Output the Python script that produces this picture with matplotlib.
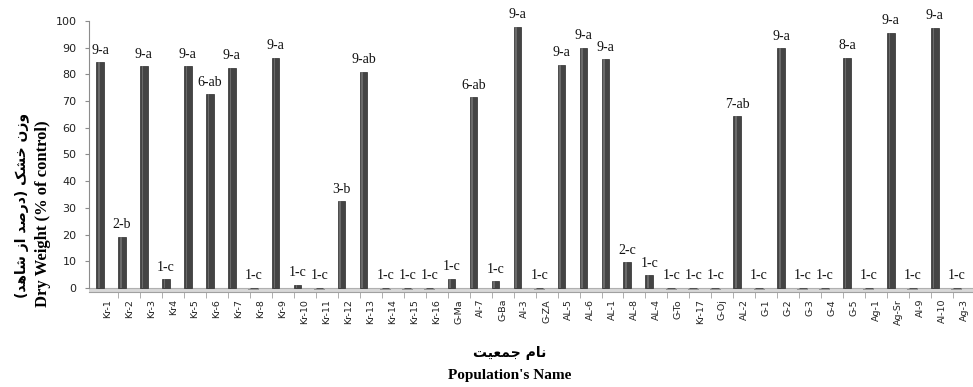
import matplotlib
matplotlib.use("Agg")
import matplotlib.pyplot as plt
import numpy as np

categories = ["Kr-1", "Kr-2", "Kr-3", "Kr4", "Kr-5", "Kr-6", "Kr-7", "Kr-8", "Kr-9", "Kr-10",
              "Kr-11", "Kr-12", "Kr-13", "Kr-14", "Kr-15", "Kr-16", "G-Ma", "Al-7", "G-Ba", "Al-3",
              "G-ZA", "AL-5", "AL-6", "AL-1", "AL-8", "AL-4", "G-To", "Kr-17", "G-Oj", "AL-2",
              "G-1", "G-2", "G-3", "G-4", "G-5", "Ag-1", "Ag-Sr", "Al-9", "Al-10", "Ag-3"]
values = [84.5, 19.2, 83.0, 3.2, 83.0, 72.5, 82.5, 0.0, 86.2, 1.2,
          0.0, 32.5, 81.0, 0.0, 0.0, 0.0, 3.5, 71.5, 2.5, 97.8,
          0.0, 83.5, 90.0, 85.7, 9.7, 4.8, 0.0, 0.0, 0.0, 64.3,
          0.0, 89.8, 0.0, 0.0, 86.2, 0.0, 95.5, 0.0, 97.5, 0.0]
bar_labels = ["9-a", "2-b", "9-a", "1-c", "9-a", "6-ab", "9-a", "1-c", "9-a", "1-c",
              "1-c", "3-b", "9-ab", "1-c", "1-c", "1-c", "1-c", "6-ab", "1-c", "9-a",
              "1-c", "9-a", "9-a", "9-a", "2-c", "1-c", "1-c", "1-c", "1-c", "7-ab",
              "1-c", "9-a", "1-c", "1-c", "8-a", "1-c", "9-a", "1-c", "9-a", "1-c"]
yticks = [0, 10, 20, 30, 40, 50, 60, 70, 80, 90, 100]

# Persian texts in pre-shaped visual (LTR) order
fa_ylabel = ("(" + "\uFEAA\uFEEB\uFE8E\uFEB7" + " " + "\uFEAF\uFE8D" + " " +
             "\uFEAA\uFEBB\uFEAD\uFEA9" + ")" + " " + "\uFB8F\uFEB8\uFEA7" + " " +
             "\uFEE5\uFEAF\uFEED")
fa_xlabel = "\uFE96\uFEF4\uFECC\uFEE4\uFE9F" + " " + "\uFEE1\uFE8E\uFEE7"
en_ylabel = "Dry Weight (% of control)"
en_xlabel = "Population's Name"

W, H = 973, 387
fig = plt.figure(figsize=(W / 100, H / 100), dpi=100)
ax = fig.add_axes([89 / W, (H - 292) / H, 886 / W, (292 - 21) / H])

x = np.arange(len(categories))
ax.set_xlim(-0.5, len(categories) - 0.5)
ax.set_ylim(-1.5, 100)

# floor
ax.axhspan(-1.5, 0, color="#d8d8d8", zorder=0.5, lw=0)
ax.axhline(0, color="#b0b0b0", lw=0.8, zorder=0.6)

ax.bar(x, values, width=0.34, color="#444444", edgecolor="#2a2a2a", linewidth=0.5, zorder=3)
ax.bar(x - 0.06, values, width=0.08, color="#6a6a6a", linewidth=0, zorder=3.5)
# flat marks of the zero bars on the floor
ax.bar(x, [0.6 if v == 0 else 0 for v in values], width=0.5, bottom=-0.9,
       color="#9a9a9a", linewidth=0, zorder=2)

for xi, v, lab in zip(x, values, bar_labels):
    ax.annotate(lab, (xi, v), xytext=(0, 4), textcoords="offset points",
                ha="center", va="bottom", fontsize=10, family="Liberation Serif",
                color="#111111")

for s in ["top", "right"]:
    ax.spines[s].set_visible(False)
ax.spines["left"].set_bounds(0, 100)
ax.spines["left"].set_color("#8c8c8c")
ax.spines["bottom"].set_color("#a0a0a0")

ax.set_yticks(yticks)
ax.set_yticklabels([str(t) for t in yticks], fontsize=8, color="#222222")
ax.tick_params(axis="y", length=3, color="#8c8c8c", pad=6)

ax.set_xticks(x + 0.33)
ax.set_xticklabels(categories, rotation=90, fontsize=6.8, color="#222222")
ax.set_xticks(x + 0.83, minor=True)
ax.tick_params(axis="x", which="major", length=0, pad=5)
ax.tick_params(axis="x", which="minor", length=4, color="#a0a0a0")

fig.text(22 / W, 1 - 205 / H, fa_ylabel, rotation=90, ha="center", va="center",
         fontsize=10, fontweight="bold", family="DejaVu Sans")
fig.text(43 / W, 1 - 214 / H, en_ylabel, rotation=90, ha="center", va="center",
         fontsize=12, fontweight="bold", family="Liberation Serif")
fig.text(510 / W, 1 - 353 / H, fa_xlabel, ha="center", va="center",
         fontsize=10, fontweight="bold", family="DejaVu Sans")
fig.text(510 / W, 1 - 376 / H, en_xlabel, ha="center", va="center",
         fontsize=11, fontweight="bold", family="Liberation Serif")

fig.savefig("out.png", dpi=100)
